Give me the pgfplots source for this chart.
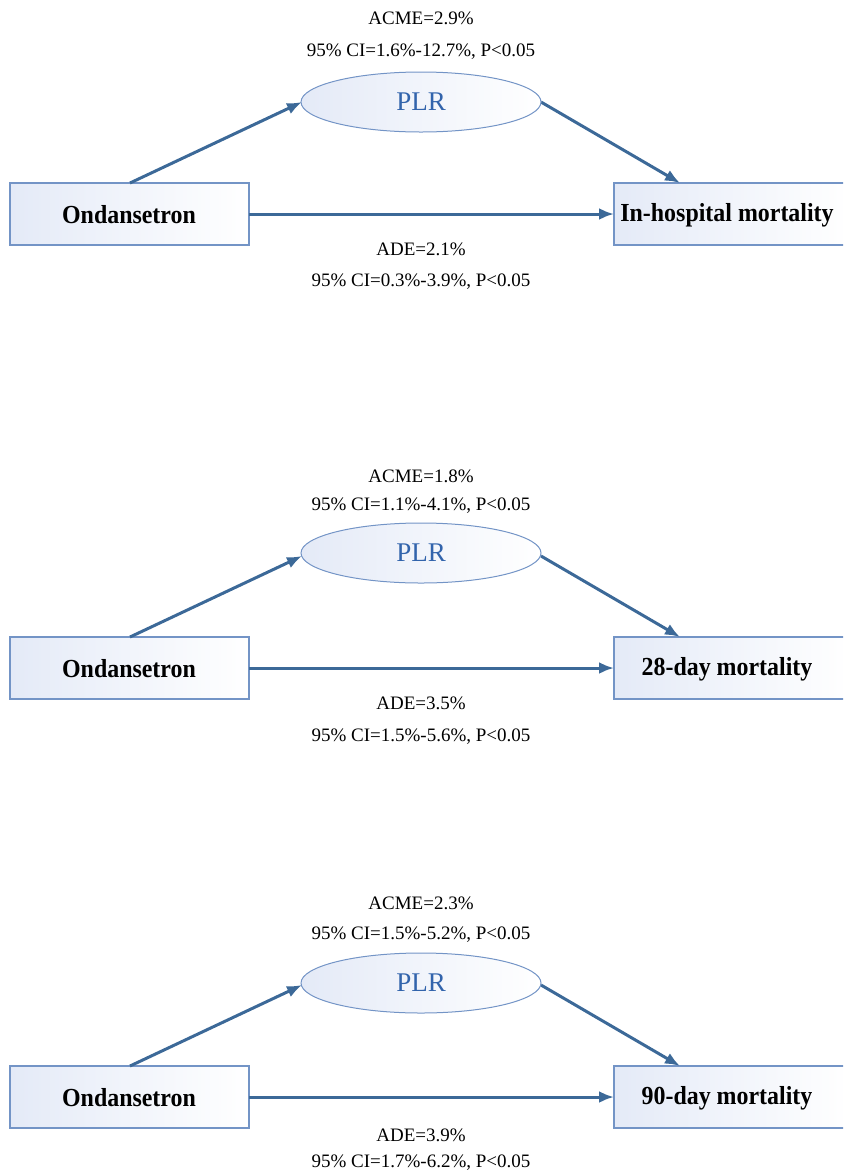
\documentclass[border=0pt]{standalone}
\usepackage{pgfplots}
\pgfplotsset{compat=1.18}
\usepackage{fontspec}
\setmainfont{Liberation Serif}
\usetikzlibrary{arrows.meta,shapes.geometric}

\definecolor{arrowblue}{RGB}{60,105,152}
\definecolor{boxline}{RGB}{115,148,198}
\definecolor{boxfill}{RGB}{228,234,247}
\definecolor{plrblue}{RGB}{50,100,172}

\tikzset{
  path/.style={line width=3bp, color=arrowblue, -{Latex[length=15bp,width=12bp]}},
  box/.style={draw=boxline, line width=1.1bp, left color=boxfill, right color=white},
  lab/.style={font=\fontsize{26bp}{30bp}\selectfont\bfseries, text=black, xscale=0.92},
  stat/.style={font=\fontsize{19bp}{22bp}\selectfont, text=black},
  med/.style={ellipse, draw=boxline, line width=1bp, left color=boxfill, right color=white,
    minimum width=240bp, minimum height=60bp, inner sep=0pt,
    font=\fontsize{27bp}{30bp}\selectfont, text=plrblue},
}

\begin{document}
\begin{tikzpicture}
\begin{axis}[
    width=843bp, height=1171bp, scale only axis,
    xmin=0, xmax=843, ymin=0, ymax=1171,
    y dir=reverse,
    hide axis,
]
% ---- panel 1: in-hospital mortality
\addplot[box] coordinates {(10,183)(249,183)(249,245)(10,245)} -- cycle;
\addplot[box] coordinates {(614,183)(850,183)(850,245)(614,245)} -- cycle;
\addplot[path] coordinates {(130,183)(302,102)};
\addplot[path] coordinates {(541,102)(680,183)};
\addplot[path] coordinates {(249,214)(614,214)};
\node[med] at (axis cs:421,102) {PLR};
\node[lab] at (axis cs:129,215) {Ondansetron};
\node[lab] at (axis cs:727,215) {In-hospital mortality};
\node[stat] at (axis cs:421,18) {ACME=2.9\%};
\node[stat] at (axis cs:421,52) {95\% CI=1.6\%-12.7\%, P<0.05};
\node[stat] at (axis cs:421,249) {ADE=2.1\%};
\node[stat] at (axis cs:421,282) {95\% CI=0.3\%-3.9\%, P<0.05};

% ---- panel 2: 28-day mortality
\addplot[box] coordinates {(10,637)(249,637)(249,699)(10,699)} -- cycle;
\addplot[box] coordinates {(614,637)(850,637)(850,699)(614,699)} -- cycle;
\addplot[path] coordinates {(130,637)(302,556)};
\addplot[path] coordinates {(541,556)(680,637)};
\addplot[path] coordinates {(249,668)(614,668)};
\node[med] at (axis cs:421,553) {PLR};
\node[lab] at (axis cs:129,669) {Ondansetron};
\node[lab] at (axis cs:727,669) {28-day mortality};
\node[stat] at (axis cs:421,476) {ACME=1.8\%};
\node[stat] at (axis cs:421,506) {95\% CI=1.1\%-4.1\%, P<0.05};
\node[stat] at (axis cs:421,703) {ADE=3.5\%};
\node[stat] at (axis cs:421,737) {95\% CI=1.5\%-5.6\%, P<0.05};

% ---- panel 3: 90-day mortality
\addplot[box] coordinates {(10,1066)(249,1066)(249,1128)(10,1128)} -- cycle;
\addplot[box] coordinates {(614,1066)(850,1066)(850,1128)(614,1128)} -- cycle;
\addplot[path] coordinates {(130,1066)(302,985)};
\addplot[path] coordinates {(541,985)(680,1066)};
\addplot[path] coordinates {(249,1097)(614,1097)};
\node[med] at (axis cs:421,983) {PLR};
\node[lab] at (axis cs:129,1098) {Ondansetron};
\node[lab] at (axis cs:727,1098) {90-day mortality};
\node[stat] at (axis cs:421,903) {ACME=2.3\%};
\node[stat] at (axis cs:421,935) {95\% CI=1.5\%-5.2\%, P<0.05};
\node[stat] at (axis cs:421,1135) {ADE=3.9\%};
\node[stat] at (axis cs:421,1163) {95\% CI=1.7\%-6.2\%, P<0.05};
\end{axis}
% page = axis area only (labels near the edges must not widen it)
\pgfresetboundingbox
\useasboundingbox (current axis.south west) rectangle (current axis.north east);
\end{tikzpicture}
\end{document}
